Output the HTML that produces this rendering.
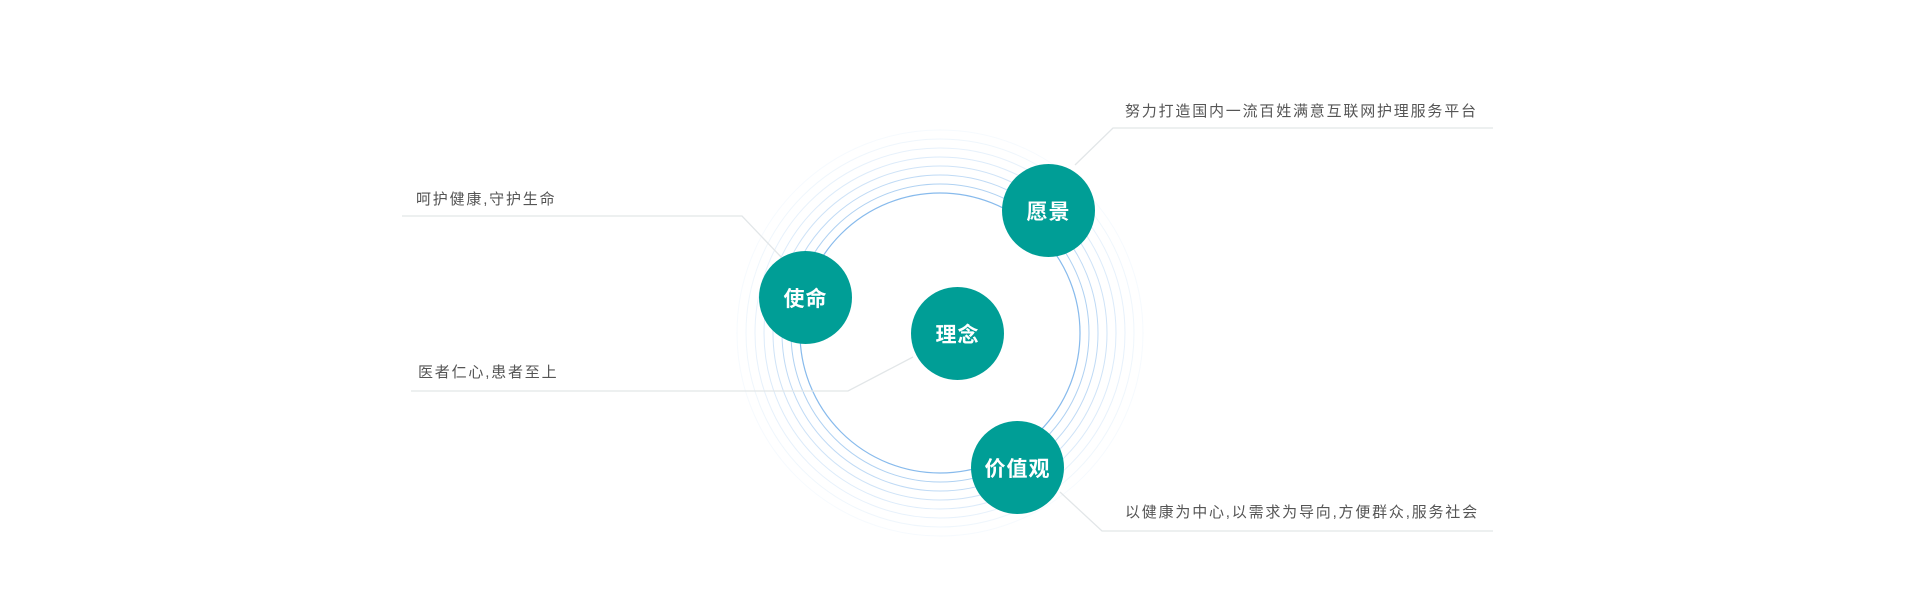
<!DOCTYPE html>
<html><head><meta charset="utf-8"><style>
html,body{margin:0;padding:0;background:#fff;}
body{width:1920px;height:603px;position:relative;overflow:hidden;font-family:"Liberation Sans","Noto Sans CJK SC",sans-serif;}
.t{position:absolute;font-size:15px;color:#555;letter-spacing:1.8px;line-height:20px;white-space:nowrap;}
.c{position:absolute;width:93px;height:93px;border-radius:50%;background:#009e96;color:#fff;font-size:21px;font-weight:bold;display:flex;align-items:center;justify-content:center;letter-spacing:1px;}
</style></head><body>
<svg width="1920" height="603" style="position:absolute;left:0;top:0">
<g fill="none" stroke="#5fa3e6">
<circle cx="940" cy="333" r="140" stroke-opacity="0.75" stroke-width="1.2"/>
<circle cx="940" cy="333" r="149" stroke-opacity="0.5"/>
<circle cx="940" cy="333" r="158" stroke-opacity="0.4"/>
<circle cx="940" cy="333" r="167" stroke-opacity="0.3"/>
<circle cx="940" cy="333" r="176" stroke-opacity="0.22"/>
<circle cx="940" cy="333" r="185" stroke-opacity="0.15"/>
<circle cx="940" cy="333" r="194" stroke-opacity="0.1"/>
<circle cx="940" cy="333" r="203" stroke-opacity="0.06"/>
</g>
<g fill="none" stroke="#e2e6e8" stroke-width="1.3">
<polyline points="1493,128 1113,128 1075,165"/>
<polyline points="402,216 742,216 782,258"/>
<polyline points="411,391 848,391 913,357"/>
<polyline points="1493,531 1102,531 1060,492"/>
</g>
</svg>
<div class="t" style="left:1125px;top:102px">努力打造国内一流百姓满意互联网护理服务平台</div>
<div class="t" style="left:416px;top:190px">呵护健康,守护生命</div>
<div class="t" style="left:418px;top:363px">医者仁心,患者至上</div>
<div class="t" style="left:1125px;top:503px">以健康为中心,以需求为导向,方便群众,服务社会</div>
<div class="c" style="left:1002px;top:164px">愿景</div>
<div class="c" style="left:759px;top:251px">使命</div>
<div class="c" style="left:911px;top:287px">理念</div>
<div class="c" style="left:971px;top:421px">价值观</div>
</body></html>
